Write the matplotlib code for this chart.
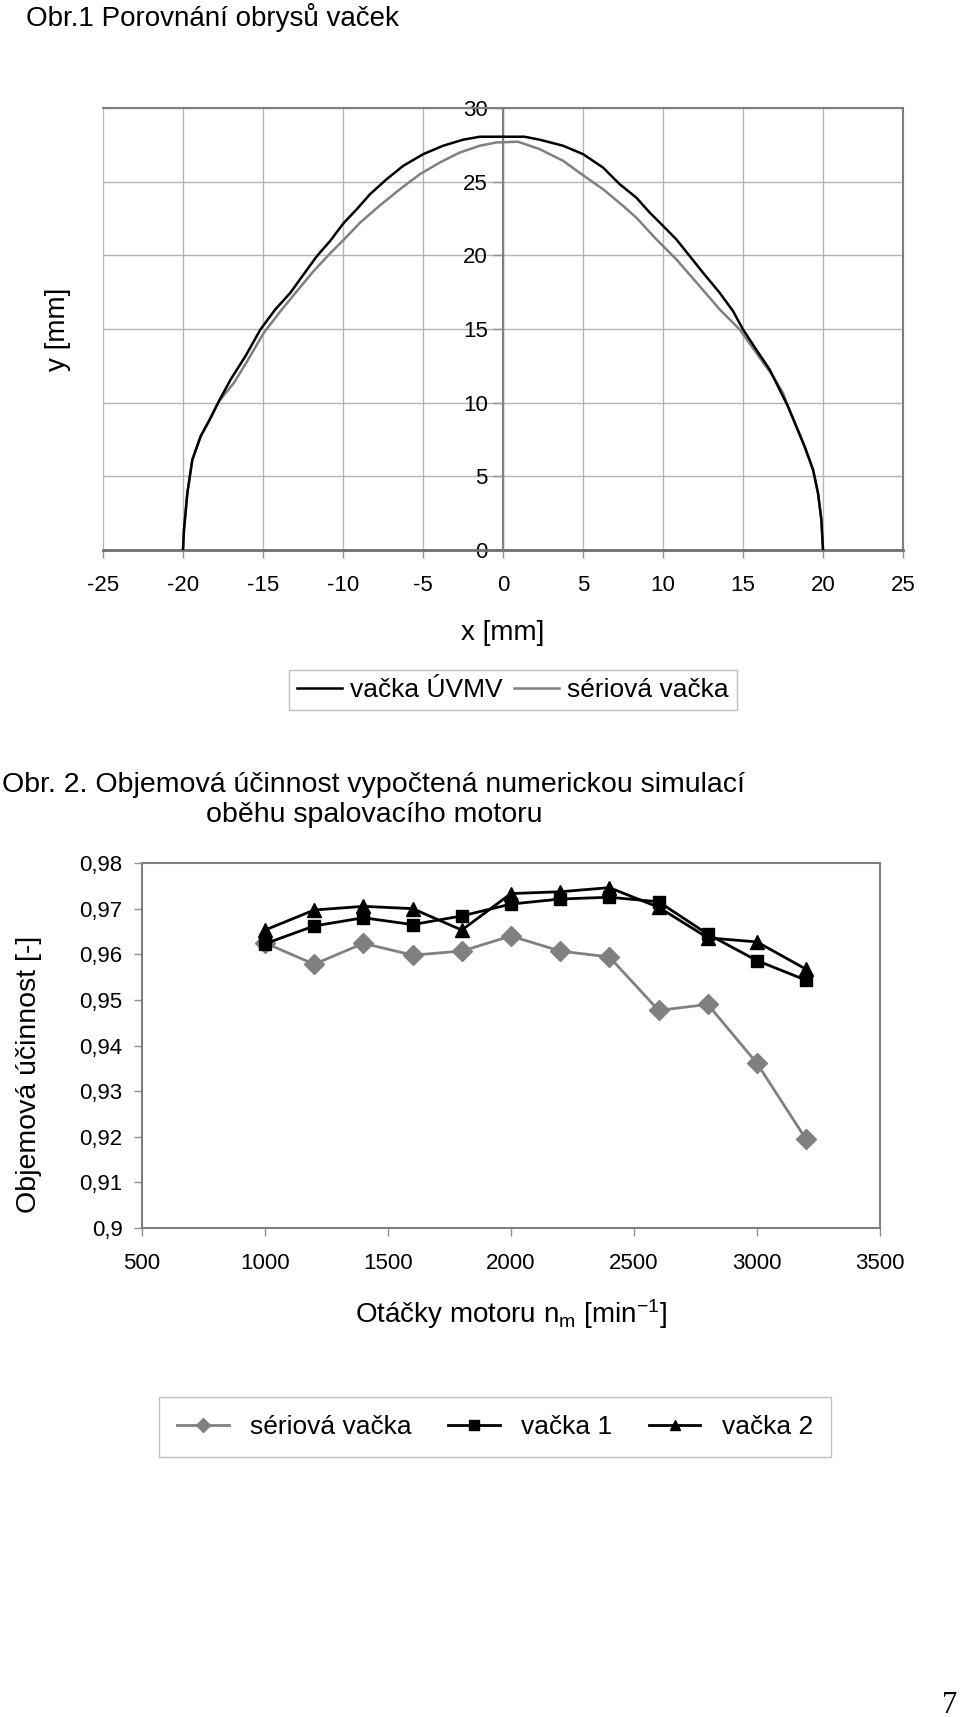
import matplotlib
matplotlib.use("Agg")
import matplotlib.pyplot as plt
from matplotlib.spines import Spine
from matplotlib.lines import Line2D
from matplotlib.ticker import FixedLocator, FuncFormatter

plt.rcParams['font.family'] = ['Liberation Sans', 'DejaVu Sans']
plt.rcParams['mathtext.fontset'] = 'custom'
plt.rcParams['mathtext.rm'] = 'Liberation Sans'
plt.rcParams['mathtext.it'] = 'Liberation Sans'

# ---------------- data: cam profiles (Obr. 1) ----------------
uvmv_x = [-20.0, -19.94, -19.73, -19.42, -18.9, -18.28, -17.76, -17.03, -16.1, -15.16,
          -14.23, -13.29, -12.46, -11.63, -10.8, -9.97, -9.14, -8.31, -7.27, -6.23,
          -4.98, -3.74, -2.49, -1.45, 0.0, 1.35, 2.29, 3.75, 5.0, 6.25, 7.29, 8.33,
          9.17, 10.0, 10.83, 11.67, 12.5, 13.54, 14.38, 15.0, 15.83, 16.67, 17.29,
          17.81, 18.33, 18.85, 19.38, 19.69, 19.9, 20.0]
uvmv_y = [0.0, 1.36, 3.85, 6.12, 7.71, 8.96, 10.09, 11.56, 13.15, 14.97,
          16.33, 17.46, 18.71, 19.95, 20.98, 22.18, 23.13, 24.15, 25.17, 26.08,
          26.87, 27.44, 27.85, 28.05, 28.05, 28.05, 27.85, 27.44, 26.87, 25.96, 24.83, 23.92,
          22.9, 22.0, 21.09, 19.95, 18.82, 17.46, 16.21, 14.97, 13.6, 12.24, 10.88,
          9.75, 8.39, 7.03, 5.44, 3.85, 2.04, 0.0]

serial_x = [-20.0, -19.94, -19.73, -19.42, -18.9, -18.28, -17.76, -16.82, -15.99, -14.95,
            -13.91, -12.88, -11.84, -10.8, -9.97, -8.93, -7.68, -6.44, -5.19, -3.95,
            -2.7, -1.45, -0.42, 0.94, 2.29, 3.75, 5.0, 6.25, 7.5, 8.33, 9.58, 10.83,
            12.29, 13.54, 14.79, 15.83, 16.88, 17.5, 17.81, 18.33, 18.85, 19.38, 19.69,
            19.9, 20.0]
serial_y = [0.0, 1.36, 3.85, 6.12, 7.71, 8.96, 10.09, 11.34, 12.81, 14.74,
            16.21, 17.57, 18.93, 20.14, 21.04, 22.22, 23.4, 24.49, 25.51, 26.3,
            26.98, 27.44, 27.66, 27.71, 27.21, 26.42, 25.44, 24.49, 23.36, 22.56, 21.09, 19.73,
            17.91, 16.33, 14.97, 13.38, 11.79, 10.66, 9.75, 8.39, 7.03, 5.44, 3.85,
            2.04, 0.0]

# ---------------- data: volumetric efficiency (Obr. 2) ----------------
rpm = [1000, 1200, 1400, 1600, 1800, 2000, 2200, 2400, 2600, 2800, 3000, 3200]
eff_serial = [0.9625, 0.9578, 0.9624, 0.9598, 0.9607, 0.9640, 0.9607, 0.9594,
              0.9477, 0.9490, 0.9361, 0.9194]
eff_cam1 = [0.9623, 0.9662, 0.9680, 0.9665, 0.9684, 0.9710, 0.9721, 0.9725,
            0.9715, 0.9644, 0.9586, 0.9543]
eff_cam2 = [0.9653, 0.9697, 0.9705, 0.9700, 0.9653, 0.9733, 0.9737, 0.9746,
            0.9703, 0.9636, 0.9627, 0.9567]

x_ticks_top = [-25, -20, -15, -10, -5, 0, 5, 10, 15, 20, 25]
y_ticks_top = [0, 5, 10, 15, 20, 25, 30]
x_ticks_bot = [500, 1000, 1500, 2000, 2500, 3000, 3500]
y_ticks_bot = [0.90, 0.91, 0.92, 0.93, 0.94, 0.95, 0.96, 0.97, 0.98]

W, H = 960, 1717
fig = plt.figure(figsize=(W / 100, H / 100), dpi=100)

FRAME = '#808080'
GRID = '#b4b4b4'

def fx(px):
    return px / W

def fy(py):
    return 1 - py / H

# ================= Top chart =================
ax1 = fig.add_axes([fx(103), fy(550), (903 - 103) / W, (550 - 108) / H])
ax1.plot(serial_x, serial_y, color='#808080', lw=1.8, label='sériová vačka', zorder=3)
ax1.plot(uvmv_x, uvmv_y, color='black', lw=1.8, label='vačka ÚVMV', zorder=4)
ax1.set_xlim(-25, 25)
ax1.set_ylim(0, 30)
ax1.xaxis.set_major_locator(FixedLocator(x_ticks_top))
ax1.yaxis.set_major_locator(FixedLocator(y_ticks_top))
ax1.grid(True, color=GRID, lw=1.0, zorder=0)
ax1.set_axisbelow(True)

ax1.spines['left'].set_position(('data', 0))
ax1.spines['left'].set_color('#a0a0a0')
ax1.spines['left'].set_linewidth(1.0)
for s in ['top', 'right']:
    ax1.spines[s].set_color(FRAME)
    ax1.spines[s].set_linewidth(1.5)
ax1.spines['bottom'].set_color('#707070')
ax1.spines['bottom'].set_linewidth(2.0)
frame_left = Spine.linear_spine(ax1, 'left')
frame_left.set_color(FRAME)
frame_left.set_linewidth(1.5)
ax1.spines['frame_left'] = frame_left

ax1.tick_params(axis='y', direction='out', length=7, width=1, color='#909090',
                labelsize=16, pad=4)
ax1.tick_params(axis='x', direction='out', length=6, width=1, color='#909090',
                labelsize=16, pad=12)
ax1.xaxis.set_major_formatter(FuncFormatter(lambda v, p: f'{v:g}'))
ax1.set_xlabel('x [mm]', fontsize=20)
ax1.xaxis.set_label_coords(0.5, -0.158)
ax1.set_ylabel('y [mm]', fontsize=20)
ax1.yaxis.set_label_coords(-0.04, 0.5)

h1 = [Line2D([], [], color='black', lw=1.8), Line2D([], [], color='#808080', lw=1.8)]
leg1 = fig.legend(h1, ['vačka ÚVMV', 'sériová vačka'], loc='center',
                  bbox_to_anchor=(fx(513), fy(690)), ncol=2, fontsize=19,
                  frameon=True, fancybox=False, edgecolor='#b0b0b0',
                  handlelength=1.7, handletextpad=0.3, columnspacing=0.45,
                  borderpad=0.3, borderaxespad=0)
leg1.get_frame().set_linewidth(1.0)

fig.text(fx(26), fy(17), 'Obr.1 Porovnání obrysů vaček', fontsize=20,
         ha='left', va='center')

# ================= Bottom chart =================
fig.text(fx(374), fy(800),
         'Obr. 2. Objemová účinnost vypočtená numerickou simulací\noběhu spalovacího motoru',
         fontsize=20.5, ha='center', va='center', multialignment='center', linespacing=1.2)

ax2 = fig.add_axes([fx(142), fy(1228), (880 - 142) / W, (1228 - 863) / H])
ax2.plot(rpm, eff_serial, color='#808080', lw=2, marker='D', ms=10,
         mfc='#808080', mec='#808080', label='sériová vačka', zorder=3)
ax2.plot(rpm, eff_cam1, color='black', lw=2, marker='s', ms=9,
         mfc='black', mec='black', label='vačka 1', zorder=4)
ax2.plot(rpm, eff_cam2, color='black', lw=2, marker='^', ms=10.5,
         mfc='black', mec='black', label='vačka 2', zorder=5)
ax2.set_xlim(500, 3500)
ax2.set_ylim(0.90, 0.98)
ax2.xaxis.set_major_locator(FixedLocator(x_ticks_bot))
ax2.yaxis.set_major_locator(FixedLocator(y_ticks_bot))
ax2.yaxis.set_major_formatter(FuncFormatter(lambda v, p: f'{v:.2f}'.rstrip('0').replace('.', ',')))
for s in ax2.spines.values():
    s.set_color(FRAME)
    s.set_linewidth(1.5)
ax2.tick_params(axis='both', direction='out', length=6, width=1, color='#909090',
                labelsize=16)
ax2.tick_params(axis='y', pad=8)
ax2.tick_params(axis='x', pad=12)
ax2.set_xlabel('Otáčky motoru n$_\\mathrm{m}$ [min$^{\\mathrm{-1}}$]', fontsize=20)
ax2.xaxis.set_label_coords(0.5, -0.19)
ax2.set_ylabel('Objemová účinnost [-]', fontsize=20.5)
ax2.yaxis.set_label_coords(-0.136, 0.42)

leg2 = fig.legend(loc='center', handles=ax2.get_lines(),
                  bbox_to_anchor=(fx(495), fy(1427)), ncol=3, fontsize=19,
                  frameon=True, fancybox=False, edgecolor='#b0b0b0',
                  handlelength=1.95, handletextpad=0.8, columnspacing=1.4,
                  borderpad=0.7, borderaxespad=0, markerscale=0.75)
leg2.get_frame().set_linewidth(1.0)

fig.text(fx(950), fy(1705), '7', fontsize=22, family=['Liberation Serif', 'DejaVu Serif'],
         ha='center', va='center')

fig.savefig('out.png', dpi=100, facecolor='white')
